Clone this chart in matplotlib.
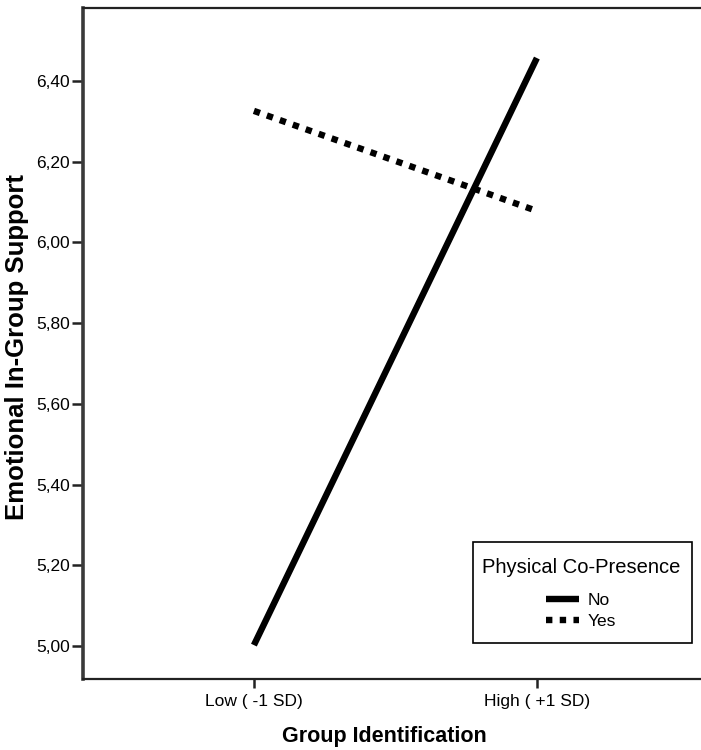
import matplotlib
matplotlib.use("Agg")
import matplotlib.pyplot as plt
from matplotlib.patches import Rectangle

plt.rcParams['font.family'] = ['Liberation Sans', 'DejaVu Sans']

categories = ["Low ( -1 SD)", "High ( +1 SD)"]
no_values = [5.002, 6.457]
yes_values = [6.326, 6.078]
series_names = ["No", "Yes"]
legend_title = "Physical Co-Presence"
y_ticks = [5.00, 5.20, 5.40, 5.60, 5.80, 6.00, 6.20, 6.40]
y_tick_labels = ["5,00", "5,20", "5,40", "5,60", "5,80", "6,00", "6,20", "6,40"]

W, H = 701, 750
fig = plt.figure(figsize=(W / 100, H / 100), dpi=100)
ax = fig.add_axes([83 / W, 1 - 679 / H, 1 - 83 / W, (679 - 8) / H])

x = [0, 1]
ax.plot(x, no_values, color='black', lw=4.6, solid_capstyle='butt', label=series_names[0])
ax.plot(x, yes_values, color='black', lw=4.6, linestyle=(0, (1, 1.15)),
        dash_capstyle='butt', label=series_names[1])

ax.set_xlim(-0.604, 1.58)
ax.set_ylim(4.918, 6.581)
ax.set_xticks(x)
ax.set_xticklabels(categories, fontsize=12.5)
ax.set_yticks(y_ticks)
ax.set_yticklabels(y_tick_labels, fontsize=12.5)

ax.spines['right'].set_visible(False)
ax.spines['left'].set_linewidth(2.6)
ax.spines['left'].set_color('#3a3a3a')
for s in ('bottom', 'top'):
    ax.spines[s].set_linewidth(1.6)
    ax.spines[s].set_color('#222222')

ax.tick_params(axis='y', direction='out', length=8, width=1.8, color='#222222', pad=1.5)
ax.tick_params(axis='x', direction='out', length=6.5, width=1.8, color='#222222', pad=4)

ax.set_xlabel("Group Identification", fontsize=15.5, fontweight='bold')
ax.xaxis.set_label_coords(0.487, -0.07)
ax.set_ylabel("Emotional In-Group Support", fontsize=18.5, fontweight='bold')
ax.yaxis.set_label_coords(-0.088, 0.495)

leg = ax.legend(title=legend_title, title_fontsize=14.5, fontsize=12.5,
                loc='upper center', bbox_to_anchor=(581 / W, 1 - 558 / H),
                bbox_transform=fig.transFigure, frameon=False,
                handlelength=1.85, handletextpad=0.5,
                labelspacing=0.33, borderpad=0, borderaxespad=0)
leg._legend_box.sep = 11.3

frame = Rectangle((473 / W, 1 - 643 / H), (692 - 473) / W, (643 - 542) / H,
                  transform=fig.transFigure, fill=False, edgecolor='black',
                  lw=1.2, zorder=5)
fig.add_artist(frame)

fig.savefig("out.png", dpi=100)
